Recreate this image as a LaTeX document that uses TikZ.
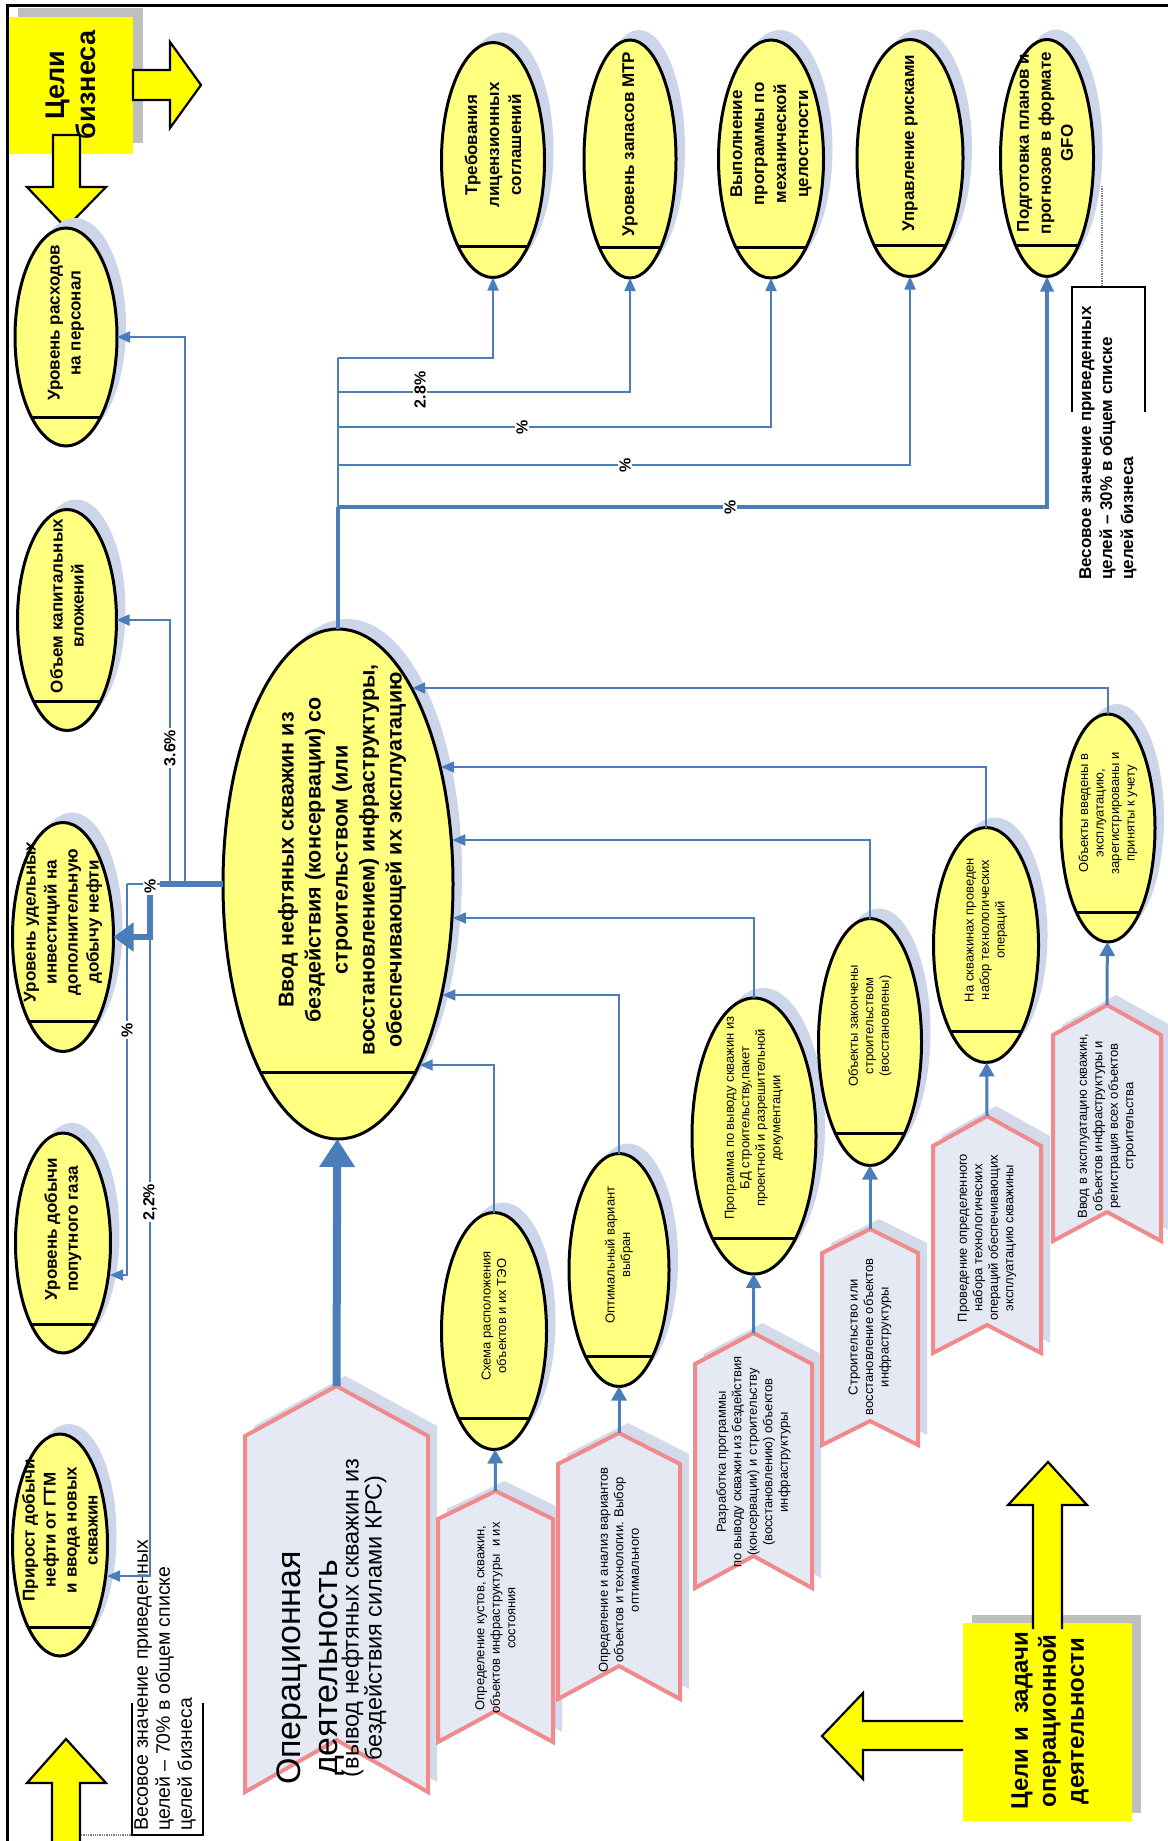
\documentclass[tikz,border=0pt]{standalone}
\usepackage{fontspec}
\setmainfont{Liberation Sans}
\usetikzlibrary{arrows.meta,shapes.geometric,calc}
\definecolor{conn}{HTML}{4A7EBB}
\definecolor{ylw}{HTML}{FFFF80}
\definecolor{byellow}{HTML}{FFFF00}
\definecolor{shd}{HTML}{CDD5EA}
\definecolor{chfill}{HTML}{E4E9F4}
\definecolor{chshd}{HTML}{D3DAEA}
\definecolor{pinkc}{HTML}{F08A8C}
\definecolor{boxshd}{HTML}{BFBFBF}
\newcommand\myPct{\fontsize{16}{16}\selectfont\bfseries}
\newcommand\myBig{\fontsize{21.5}{27}\selectfont\bfseries}
\newcommand\myE{\fontsize{17}{21}\selectfont\bfseries}
\newcommand\myR{\fontsize{17}{22}\selectfont\bfseries}
\newcommand\mySm{\fontsize{13}{15.5}\selectfont}
\newcommand\goalE[5]{%
  \fill[shd,shift={(9,-10)}] (#2,#3) ellipse [x radius={#4/2}, y radius={#5/2}];
  \node[gE, minimum width=#4, minimum height=#5] (#1) at (#2,#3) {};
  \begin{scope}
    \clip (#2,#3) ellipse [x radius={#4/2}, y radius={#5/2}];
    \draw[line width=3pt] ({#2-#4/2},{#3+0.37*#5}) -- ({#2+#4/2},{#3+0.37*#5});
  \end{scope}}
\newcommand\chev[7]{%
  \fill[chshd,shift={(9,-10)}] (#2,#4) -- ({(#2+#3)/2},{#4-#5}) -- (#3,#4) -- (#3,#6) -- ({(#2+#3)/2},{#6-#7}) -- (#2,#6) -- cycle;
  \draw[chev] (#2,#4) -- ({(#2+#3)/2},{#4-#5}) -- (#3,#4) -- (#3,#6) -- ({(#2+#3)/2},{#6-#7}) -- (#2,#6) -- cycle;
  \coordinate (#1) at ({(#2+#3)/2},{#4-#5});}
\begin{document}
\begin{tikzpicture}[x=1pt,y=-1pt,
  gE/.style={ellipse, draw=black, line width=3pt, fill=ylw, inner sep=0pt, outer sep=0pt},
  tx/.style={rotate=90, align=center, inner sep=0pt},
  cn/.style={draw=conn, line width=1.8pt},
  cna/.style={cn, -{Triangle[length=13pt,width=11pt]}},
  upa/.style={draw=conn, line width=3pt, -{Triangle[length=14pt,width=15pt]}},
  pct/.style={rotate=90, fill=white, inner sep=1.5pt, font=\myPct},
  chev/.style={draw=pinkc, line width=4pt, fill=chfill, line join=miter},
  yarr/.style={fill=byellow, draw=black, line width=2.2pt, line join=miter}]
\useasboundingbox (0,0) rectangle (1167,1841);
\fill[white] (0,0) rectangle (1167,1841);
% frame
\draw[line width=3pt] (7,1845) -- (7,6) -- (1170,6);

% ---------- business goals box ----------
\fill[boxshd] (18,8) rectangle (143,143);
\fill[byellow] (9,17) rectangle (133,154);
\draw[yarr] (133,70) -- (170,70) -- (170,42) -- (201,85) -- (170,128) -- (170,100) -- (133,100) -- cycle;
\draw[yarr] (53,135) -- (80,135) -- (80,187) -- (106,187) -- (66,228) -- (27,187) -- (53,187) -- cycle;
\node[tx, font=\fontsize{27}{31}\selectfont\bfseries] (bizT) at (71,85) {Цели\\бизнеса};

% ---------- operational goals box ----------
\fill[boxshd] (972,1615) rectangle (1141,1813);
\fill[byellow] (963,1623) rectangle (1132,1821);
\draw[yarr] (963,1721) -- (863,1721) -- (863,1693) -- (822,1736) -- (863,1779) -- (863,1750) -- (963,1750);
\draw[yarr] (1033,1629) -- (1033,1505) -- (1008,1505) -- (1048,1462) -- (1087,1505) -- (1062,1505) -- (1062,1629);
\node[tx, font=\fontsize{24}{28}\selectfont\bfseries] (opT) at (1050,1721) {Цели и\ \ задачи\\операционной\\деятельности};

% bottom-left arrow and 70% callout
\draw[yarr] (52,1850) -- (52,1783) -- (27,1783) -- (66,1739) -- (106,1783) -- (80,1783) -- (80,1850);
\coordinate (arrBL) at (81,1835);
\coordinate (c70) at (132,1835);
\draw[densely dotted, line width=1.3pt, gray] (arrBL) -- (c70);
\draw[line width=1.5pt] (132,1703) -- (132,1835) -- (203,1835) -- (203,1703);
\node[rotate=90, anchor=west, align=left, inner sep=0pt, font=\fontsize{19.5}{22}\selectfont] (w70) at (165,1831) {Весовое значение приведенных\\целей – 70\% в общем списке\\целей бизнеса};

% 30% callout
\draw[line width=1.5pt] (1072,412) -- (1072,287) -- (1145,287) -- (1145,412);
\node[rotate=90, anchor=west, align=left, inner sep=0pt, font=\fontsize{17}{21}\selectfont\bfseries] (w30) at (1108,580) {Весовое значение приведенных\\целей – 30\% в общем списке\\целей бизнеса};
\coordinate (dR5) at (1102,186);
\coordinate (d30) at (1102,287);
\draw[densely dotted, line width=1.3pt, gray] (dR5) -- (d30);

% ---------- left goals ----------
\goalE{E1}{66}{337}{102}{218}
\goalE{E2}{67}{620}{99}{221}
\goalE{E3}{63}{937}{101}{229}
\goalE{E4}{63}{1243}{95}{220}
\goalE{E5}{60}{1545}{95}{222}
\node[tx, font=\myE] (E1t) at (66,323) {Уровень расходов\\на персонал};
\node[tx, font=\myE] (E2t) at (67,606) {Объем капитальных\\вложений};
\node[tx, font=\myE] (E3t) at (63,922) {Уровень удельных\\инвестиций на\\дополнительную\\добычу нефти};
\node[tx, font=\myE] (E4t) at (63,1229) {Уровень добычи\\попутного газа};
\node[tx, font=\myE] (E5t) at (60,1530) {Прирост добычи\\нефти от ГТМ\\и ввода новых\\скважин};

% ---------- top goals ----------
\goalE{R1}{493}{160}{103}{235}
\goalE{R2}{630}{159}{92}{238}
\goalE{R3}{771}{159}{105}{238}
\goalE{R4}{910}{158}{106}{237}
\goalE{R5}{1047}{158}{93}{237}
\node[tx, font=\myR] (R1t) at (493,145) {Требования\\лицензионных\\соглашений};
\node[tx, font=\myR] (R2t) at (630,144) {Уровень запасов МТР};
\node[tx, font=\myR] (R3t) at (771,144) {Выполнение\\программы по\\механической\\целостности};
\node[tx, font=\myR] (R4t) at (910,143) {Управление рисками};
\node[tx, font=\myR] (R5t) at (1045,143) {Подготовка планов и\\прогнозов в формате\\GFO};

% ---------- central goal ----------
\goalE{big}{338}{884}{230}{510}
\node[tx, font=\myBig] (bigt) at (342,860) {Ввод нефтяных скважин из\\бездействия (консервации) со\\строительством (или\\восстановлением) инфраструктуры,\\обеспечивающей их эксплуатацию};

% ---------- operational chain ----------
\chev{C0p}{245}{428}{1436}{50}{1792}{52}
\chev{C1p}{438}{553}{1519}{28}{1742}{31}
\chev{C2p}{558}{680}{1464}{31}{1699}{33}
\chev{C3p}{695}{812}{1364}{31}{1588}{32}
\chev{C4p}{822}{918}{1253}{24}{1445}{24}
\chev{C5p}{933}{1041}{1146}{30}{1353}{28}
\chev{C6p}{1053}{1161}{1035}{30}{1241}{29}
\node[tx, font=\fontsize{34}{37}\selectfont] (C0a) at (311,1668) {Операционная\\деятельность};
\node[tx, font=\fontsize{23.5}{23}\selectfont] (C0b) at (364,1618) {(вывод нефтяных скважин из\\бездействия силами КРС)};
\node[tx, font=\mySm] (C1t) at (495.5,1618) {Определение кустов, скважин,\\объектов инфраструктуры\ \ и их\\состояния};
\node[tx, font=\mySm] (C2t) at (619,1570) {Определение и анализ вариантов\\объектов и технологии. Выбор\\оптимального};
\node[tx, font=\mySm] (C3t) at (753.5,1462) {Разработка программы\\по выводу скважин из бездействия\\(консервации) и строительству\\(восстановлению) объектов\\инфраструктуры};
\node[tx, font=\mySm] (C4t) at (870,1337) {Строительство или\\восстановление объектов\\инфраструктуры};
\node[tx, font=\mySm] (C5t) at (987,1238) {Проведение определенного\\набора технологических\\операций обеспечивающих\\эксплуатацию скважины};
\node[tx, font=\mySm] (C6t) at (1107,1126) {Ввод в эксплуатацию скважин,\\объектов инфраструктуры и\\регистрация всех объектов\\строительства};

\goalE{O1}{494}{1331}{105}{237}
\goalE{O2}{619}{1270}{100}{233}
\goalE{O3}{754}{1136}{124}{276}
\goalE{O4}{870}{1042}{103}{247}
\goalE{O5}{986}{945}{105}{235}
\goalE{O6}{1108}{828}{94}{228}
\node[tx, font=\mySm] (O1t) at (494,1316) {Схема расположения\\объектов и их ТЭО};
\node[tx, font=\mySm] (O2t) at (619,1255) {Оптимальный вариант\\выбран};
\node[tx, font=\mySm] (O3t) at (754,1118) {Программа по выводу скважин из\\БД строительству,пакет\\проектной и разрешительной\\документации};
\node[tx, font=\mySm] (O4t) at (870,1026) {Объекты закончены\\строительством\\(восстановлены)};
\node[tx, font=\mySm] (O5t) at (986,930) {На скважинах проведен\\набор технологических\\операций};
\node[tx, font=\mySm] (O6t) at (1108,813) {Объекты введены в\\эксплуатацию,\\зарегистрированы и\\приняты к учету};

% chevron -> ellipse arrows
\draw[draw=conn, line width=8pt, -{Triangle[length=28pt,width=34pt]}] (C0p) -- (big);
\draw[upa] (C1p) -- (O1);
\draw[upa] (C2p) -- (O2);
\draw[upa] (C3p) -- (O3);
\draw[upa] (C4p) -- (O4);
\draw[upa] (C5p) -- (O5);
\draw[upa] (C6p) -- (O6);

% ellipse -> central goal
\coordinate (h1) at ({338+116*sqrt(1-((1065-884)/255)^2)},1065);
\coordinate (h2) at ({338+116*sqrt(1-((995-884)/255)^2)},995);
\coordinate (h3) at ({338+116*sqrt(1-((918-884)/255)^2)},918);
\coordinate (h4) at ({338+116*sqrt(1-((840-884)/255)^2)},840);
\coordinate (h5) at ({338+116*sqrt(1-((767-884)/255)^2)},767);
\coordinate (h6) at ({338+116*sqrt(1-((688-884)/255)^2)},688);
\draw[cna] (O1) |- (h1);
\draw[cna] (O2) |- (h2);
\draw[cna] (O3) |- (h3);
\draw[cna] (O4) |- (h4);
\draw[cna] (O5) |- (h5);
\draw[cna] (O6) |- (h6);

% central goal -> top goals
\coordinate (tR1) at (338,358);
\coordinate (tR2) at (338,392);
\coordinate (tR3) at (338,427);
\coordinate (tR4) at (338,465);
\coordinate (tR5) at (338,507);
\draw[draw=conn, line width=4pt] (big.north) -- (tR5);
\draw[cn] (tR5) -- (tR1);
\draw[cna] (tR1) -| (R1);
\draw[cna] (tR2) -| (R2);
\draw[cna] (tR3) -| (R3);
\draw[cna] (tR4) -| (R4);
\draw[draw=conn, line width=3.5pt, -{Triangle[length=15pt,width=13pt]}] (tR5) -| (R5);
\node[pct] (p28) at (420,390) {2.8\%};
\node[pct] (p3) at (522,427) {\%};
\node[pct] (p4) at (625,465) {\%};
\node[pct] (p5) at (730,507) {\%};

% central goal -> left goals
\coordinate (jTk) at (160,884);
\coordinate (jE1) at (185,884);
\coordinate (jE2) at (170,884);
\coordinate (jE3) at (150,884);
\coordinate (jE4) at (127,884);
\coordinate (aE4) at (110,1275);
\coordinate (aE5) at (107,1576);
\draw[draw=conn, line width=6pt] (big.west) -- (jTk);
\draw[cn] (jTk) -- (jE4);
\draw[cna] (jE1) |- (E1);
\draw[cna] (jE2) |- (E2);
\draw[cna] (jE4) |- (aE4);
\draw[cna] (jE3) |- (aE5);
\draw[draw=conn, line width=6pt, -{Triangle[length=20pt,width=28pt]}] (jE3) |- (E3);
\node[pct] (p36) at (170,748) {3.6\%};
\node[pct] (pE3) at (150,886) {\%};
\node[pct] (pE4) at (127,1030) {\%};
\node[pct] (p22) at (150,1202) {2,2\%};
\end{tikzpicture}
\end{document}
